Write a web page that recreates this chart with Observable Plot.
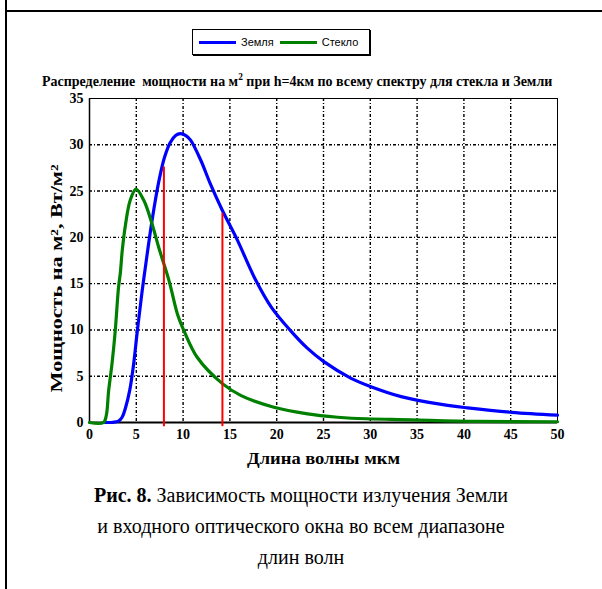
<!DOCTYPE html>
<html><head><meta charset="utf-8">
<script src="https://cdn.jsdelivr.net/npm/d3@7"></script>
<script src="https://cdn.jsdelivr.net/npm/@observablehq/plot@0.6"></script>
<style>
body{margin:0;background:#fff;color:#000;}
#wrap{position:relative;width:602px;height:589px;overflow:hidden;background:#fff;}
.hline{position:absolute;left:5px;top:10px;width:600px;height:2px;background:#000;}
.vline{position:absolute;left:5px;top:0;width:2px;height:589px;background:#000;}
#chart{position:absolute;left:0;top:0;}
#legend{position:absolute;left:192px;top:29px;width:176px;height:24px;border:1px solid #000;box-shadow:1px 1px 0 #000;background:#fff;
  font-family:"Liberation Sans",Arial,sans-serif;font-size:11px;display:flex;align-items:center;}
#legend .sw{display:inline-block;width:37px;height:3px;margin-left:6px;margin-right:5px;}
#title{position:absolute;left:42px;top:72px;white-space:nowrap;transform-origin:0 0;
  font-family:"Liberation Serif","Times New Roman",serif;font-weight:bold;font-size:15px;line-height:18px;}
#title sup{font-size:10px;line-height:0;}
#caption{position:absolute;left:0;top:480px;width:602px;text-align:center;font-family:"Liberation Serif","Times New Roman",serif;font-size:20px;line-height:31px;}
</style></head><body>
<div id="wrap">
  <div class="vline"></div><div class="hline"></div>
  <div id="chart"></div>
  <div id="legend"></div>
  <div id="title">Распределение&nbsp; мощности на м<sup>2</sup> при h=4км по всему спектру для стекла и Земли</div>
  <div id="caption"><b>Рис. 8.</b> Зависимость мощности излучения Земли<br>и входного оптического окна во всем диапазоне<br>длин волн</div>
</div>
<script>
// ---- data ----
const seriesNames = ["Земля", "Стекло"];
const seriesColors = ["#0000ff", "#008000"];

const earthX = [1.7, 2.5, 3.1, 3.5, 3.85, 4.3, 4.7, 5.1, 5.6, 6.0, 6.5, 7.0, 7.5, 8.0, 8.6, 9.2, 9.7, 10.3, 10.8, 11.9, 12.9, 14.2, 15.8, 17.6, 19.4, 21.5, 23.3, 25, 27.9, 30, 33.3, 37.6, 40.4, 45.1, 50];
const earthY = [0, 0.02, 0.15, 0.6, 1.6, 3.5, 6.2, 9.8, 14.0, 17.0, 20.6, 23.8, 26.5, 28.6, 30.2, 31.0, 31.2, 31.0, 30.5, 28.3, 25.8, 22.9, 19.7, 15.7, 12.5, 9.9, 8.0, 6.6, 4.8, 3.9, 2.8, 1.95, 1.58, 1.1, 0.8];

const glassX = [0, 1.5, 1.8, 2.04, 2.4, 2.75, 3.1, 3.3, 3.5, 3.85, 4.35, 4.97, 5.8, 6.7, 7.4, 8.5, 9.4, 10.1, 11.5, 14.2, 16.2, 19.7, 23.3, 26.5, 28, 34.4, 41.5, 50];
const glassY = [0, 0, 0.8, 3.4, 6.3, 9.9, 14.6, 16.2, 18.6, 21.4, 24.0, 25.2, 24.0, 21.4, 18.9, 15.3, 11.7, 9.9, 7.05, 4.2, 2.9, 1.65, 0.94, 0.57, 0.46, 0.29, 0.12, 0.08];

const windowX = [7.95, 14.2];      // red window markers (µm)
const windowTop = [27.6, 22.6];

const xTicks = [0, 5, 10, 15, 20, 25, 30, 35, 40, 45, 50];
const yTicks = [0, 5, 10, 15, 20, 25, 30, 35];

const xLabel = "Длина волны мкм";
const yLabel = "Мощность на м², Вт/м²";

// ---- build ----
const earth = earthX.map((x, i) => ({x, y: earthY[i]}));
const glass = glassX.map((x, i) => ({x, y: glassY[i]}));
const win = windowX.map((x, i) => ({x, top: windowTop[i]}));
const inner = a => a.slice(1, -1);

const chart = Plot.plot({
  width: 602,
  height: 470,
  marginLeft: 89,
  marginRight: 45,
  marginTop: 98,
  marginBottom: 48,
  style: {fontFamily: "'Liberation Serif','Times New Roman',serif", fontSize: "14px", fontWeight: "bold", background: "transparent", overflow: "visible"},
  x: {domain: [0, 50]},
  y: {domain: [0, 35]},
  marks: [
    Plot.ruleX(inner(xTicks), {stroke: "#000", strokeWidth: 1.4, strokeDasharray: "3,2,1,2"}),
    Plot.ruleY(inner(yTicks), {stroke: "#000", strokeWidth: 1.4, strokeDasharray: "3,2,1,2"}),
    Plot.frame({stroke: "#000", strokeWidth: 1}),
    Plot.ruleY([0], {stroke: "#000", strokeWidth: 2}),
    Plot.ruleX([0], {stroke: "#000", strokeWidth: 1.5}),
    Plot.axisX({ticks: xTicks, tickSize: 0, tickPadding: 7, label: null}),
    Plot.axisY({ticks: yTicks, tickSize: 0, tickPadding: 6, label: null}),
    Plot.line(earth, {x: "x", y: "y", stroke: seriesColors[0], strokeWidth: 3.2, curve: "catmull-rom"}),
    Plot.line(glass, {x: "x", y: "y", stroke: seriesColors[1], strokeWidth: 3.2, curve: "catmull-rom"}),
    Plot.ruleX(win, {x: "x", y1: -0.45, y2: "top", stroke: "#ff0000", strokeWidth: 2}),
    Plot.text([xLabel], {frameAnchor: "bottom", dy: 36, textAnchor: "middle", lineAnchor: "middle", fontSize: 17, fontWeight: "bold", className: "xlab"}),
    Plot.text([yLabel], {frameAnchor: "left", dx: -33, dy: 18, textAnchor: "middle", lineAnchor: "middle", rotate: -90, fontSize: 16, fontWeight: "bold", className: "ylab"})
  ]
});
document.getElementById("chart").appendChild(chart);

// fit axis label widths to the reference
const fit = (sel, len) => chart.querySelectorAll(sel + " text").forEach(t => {
  t.setAttribute("textLength", len);
  t.setAttribute("lengthAdjust", "spacingAndGlyphs");
});
fit(".xlab", 153);
fit(".ylab", 228);

// legend from the series arrays
const leg = document.getElementById("legend");
seriesNames.forEach((name, i) => {
  const sw = document.createElement("span");
  sw.className = "sw";
  sw.style.background = seriesColors[i];
  leg.appendChild(sw);
  const t = document.createElement("span");
  t.textContent = name;
  leg.appendChild(t);
});

// squeeze the title horizontally so the whole text fits inside the frame
const title = document.getElementById("title");
const w = title.scrollWidth;
const target = 510;
if (w > target) title.style.transform = `scaleX(${target / w})`;
</script>
</body></html>
